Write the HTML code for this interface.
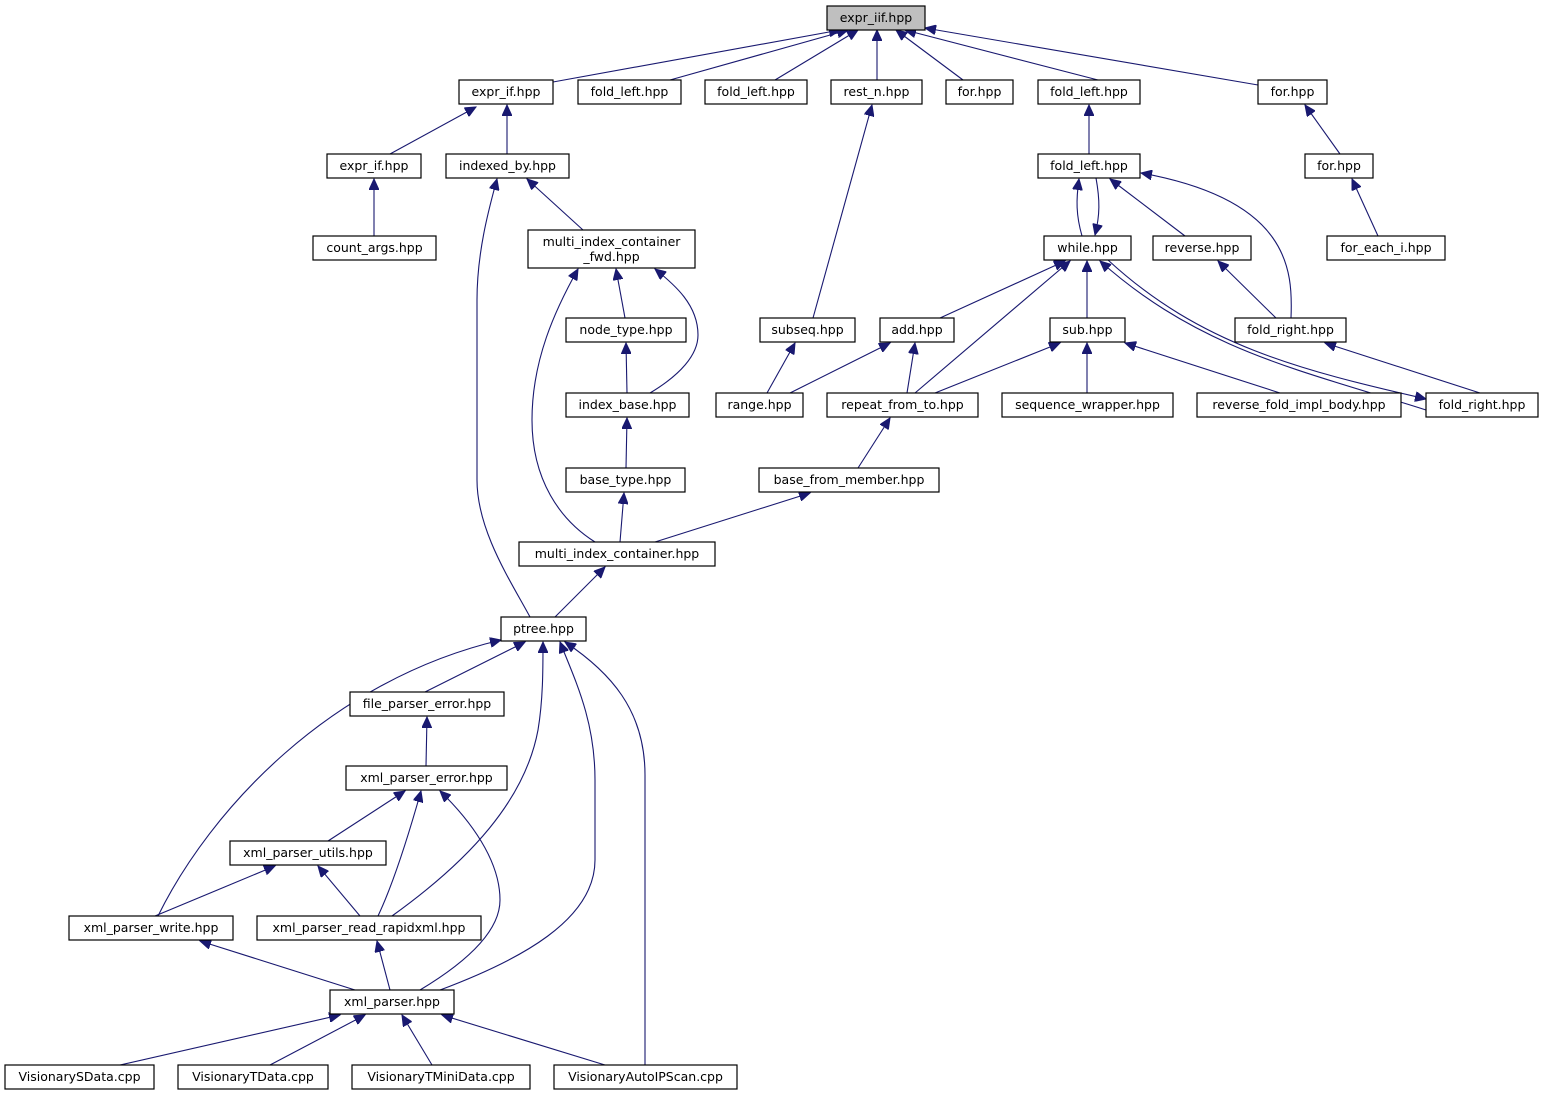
<!DOCTYPE html>
<html><head><meta charset="utf-8"><style>
html,body{margin:0;padding:0;background:#fff;}
svg{display:block;}
text{font-family:"DejaVu Sans","Liberation Sans",sans-serif;font-size:12.5px;fill:#000;}
.b{fill:#fff;stroke:#000;stroke-width:1.2;}
.e{fill:none;stroke:#191970;stroke-width:1.1;}
</style></head><body>
<svg width="1544" height="1097" viewBox="0 0 1544 1097" xmlns="http://www.w3.org/2000/svg">
<defs><marker id="a" markerWidth="12" markerHeight="10" refX="11" refY="5" orient="auto" markerUnits="userSpaceOnUse"><path d="M0,0 L11,5 L0,10 Z" fill="#191970" stroke="#191970"/></marker></defs>
<g class="e" marker-end="url(#a)">
<path d="M553,82 L840,30"/>
<path d="M670,80 L848,30"/>
<path d="M775,80 L858,30"/>
<path d="M877,80 L877,30"/>
<path d="M963,80 L896,30"/>
<path d="M1098,80 L905,30"/>
<path d="M1258,85 L925,28"/>
<path d="M390,154 L476,107"/>
<path d="M507,154 L507,105"/>
<path d="M374,236 L374,179"/>
<path d="M583,230 L527,179"/>
<path d="M530,617 C510,580 477,530 477,480 L477,300 C477,250 490,205 497,179"/>
<path d="M625,318 L616,269"/>
<path d="M650,393 C680,375 698,355 698,335 C698,305 675,285 655,269"/>
<path d="M595,542 C560,520 532,480 532,420 C532,360 555,310 578,269"/>
<path d="M627,393 L626,343"/>
<path d="M626,468 L627,418"/>
<path d="M620,542 L624,493"/>
<path d="M655,542 L810,493"/>
<path d="M555,617 L605,567"/>
<path d="M813,318 L872,105"/>
<path d="M767,393 L795,343"/>
<path d="M1089,154 L1089,105"/>
<path d="M1082,236 C1076,215 1076,200 1079,179"/>
<path d="M1096,178 C1100,200 1100,215 1095,235"/>
<path d="M1185,236 L1110,179"/>
<path d="M1291,318 C1293,270 1290,200 1141,173"/>
<path d="M1340,154 L1305,105"/>
<path d="M1378,236 L1352,179"/>
<path d="M940,318 L1065,261"/>
<path d="M915,393 L1070,261"/>
<path d="M1087,318 L1087,261"/>
<path d="M1426,410 C1300,370 1200,350 1100,261"/>
<path d="M1108,260 C1200,345 1300,370 1426,399"/>
<path d="M1480,393 L1325,343"/>
<path d="M1276,318 L1218,261"/>
<path d="M790,393 L890,343"/>
<path d="M907,393 L915,343"/>
<path d="M935,393 L1060,343"/>
<path d="M1087,393 L1087,343"/>
<path d="M1280,393 L1125,343"/>
<path d="M858,468 L890,418"/>
<path d="M425,692 L525,642"/>
<path d="M426,766 L427,717"/>
<path d="M328,841 L405,791"/>
<path d="M378,916 C395,880 410,830 421,791"/>
<path d="M420,990 C470,960 500,930 500,900 C500,860 470,820 440,791"/>
<path d="M155,916 L275,866"/>
<path d="M360,916 L318,866"/>
<path d="M158,916 C210,810 330,680 501,640"/>
<path d="M392,916 C470,860 525,800 538,730 C543,700 543,670 543,642"/>
<path d="M440,990 C520,960 595,920 595,860 L595,780 C595,720 575,680 560,642"/>
<path d="M645,1065 L645,775 C645,710 610,672 565,642"/>
<path d="M355,990 L200,941"/>
<path d="M390,990 L377,941"/>
<path d="M120,1065 L340,1015"/>
<path d="M270,1065 L365,1015"/>
<path d="M432,1065 L402,1015"/>
<path d="M605,1065 L442,1015"/>
</g>
<g>
<rect x="827" y="6" width="98" height="24" fill="#bfbfbf" stroke="#000" stroke-width="1.2"/><text x="876" y="22" text-anchor="middle">expr_iif.hpp</text>
<rect class="b" x="459" y="80" width="94" height="24"/><text x="506" y="96" text-anchor="middle">expr_if.hpp</text>
<rect class="b" x="578" y="80" width="103" height="24"/><text x="629.5" y="96" text-anchor="middle">fold_left.hpp</text>
<rect class="b" x="705" y="80" width="102" height="24"/><text x="756" y="96" text-anchor="middle">fold_left.hpp</text>
<rect class="b" x="831" y="80" width="91" height="24"/><text x="876.5" y="96" text-anchor="middle">rest_n.hpp</text>
<rect class="b" x="946" y="80" width="67" height="24"/><text x="979.5" y="96" text-anchor="middle">for.hpp</text>
<rect class="b" x="1038" y="80" width="102" height="24"/><text x="1089" y="96" text-anchor="middle">fold_left.hpp</text>
<rect class="b" x="1258" y="80" width="69" height="24"/><text x="1292.5" y="96" text-anchor="middle">for.hpp</text>
<rect class="b" x="327" y="154" width="94" height="24"/><text x="374" y="170" text-anchor="middle">expr_if.hpp</text>
<rect class="b" x="446" y="154" width="123" height="24"/><text x="507.5" y="170" text-anchor="middle">indexed_by.hpp</text>
<rect class="b" x="1038" y="154" width="102" height="24"/><text x="1089" y="170" text-anchor="middle">fold_left.hpp</text>
<rect class="b" x="1305" y="154" width="68" height="24"/><text x="1339" y="170" text-anchor="middle">for.hpp</text>
<rect class="b" x="528" y="230" width="167" height="38"/><text x="611.5" y="246" text-anchor="middle">multi_index_container</text><text x="611.5" y="261" text-anchor="middle">_fwd.hpp</text>
<rect class="b" x="313" y="236" width="123" height="24"/><text x="374.5" y="252" text-anchor="middle">count_args.hpp</text>
<rect class="b" x="1044" y="236" width="87" height="24"/><text x="1087.5" y="252" text-anchor="middle">while.hpp</text>
<rect class="b" x="1153" y="236" width="98" height="24"/><text x="1202" y="252" text-anchor="middle">reverse.hpp</text>
<rect class="b" x="1327" y="236" width="118" height="24"/><text x="1386" y="252" text-anchor="middle">for_each_i.hpp</text>
<rect class="b" x="566" y="318" width="120" height="24"/><text x="626" y="334" text-anchor="middle">node_type.hpp</text>
<rect class="b" x="760" y="318" width="95" height="24"/><text x="807.5" y="334" text-anchor="middle">subseq.hpp</text>
<rect class="b" x="880" y="318" width="74" height="24"/><text x="917" y="334" text-anchor="middle">add.hpp</text>
<rect class="b" x="1050" y="318" width="75" height="24"/><text x="1087.5" y="334" text-anchor="middle">sub.hpp</text>
<rect class="b" x="1235" y="318" width="111" height="24"/><text x="1290.5" y="334" text-anchor="middle">fold_right.hpp</text>
<rect class="b" x="566" y="393" width="123" height="24"/><text x="627.5" y="409" text-anchor="middle">index_base.hpp</text>
<rect class="b" x="716" y="393" width="87" height="24"/><text x="759.5" y="409" text-anchor="middle">range.hpp</text>
<rect class="b" x="827" y="393" width="151" height="24"/><text x="902.5" y="409" text-anchor="middle">repeat_from_to.hpp</text>
<rect class="b" x="1002" y="393" width="171" height="24"/><text x="1087.5" y="409" text-anchor="middle">sequence_wrapper.hpp</text>
<rect class="b" x="1197" y="393" width="204" height="24"/><text x="1299" y="409" text-anchor="middle">reverse_fold_impl_body.hpp</text>
<rect class="b" x="1426" y="393" width="112" height="24"/><text x="1482" y="409" text-anchor="middle">fold_right.hpp</text>
<rect class="b" x="566" y="468" width="119" height="24"/><text x="625.5" y="484" text-anchor="middle">base_type.hpp</text>
<rect class="b" x="759" y="468" width="180" height="24"/><text x="849" y="484" text-anchor="middle">base_from_member.hpp</text>
<rect class="b" x="519" y="542" width="196" height="24"/><text x="617" y="558" text-anchor="middle">multi_index_container.hpp</text>
<rect class="b" x="501" y="617" width="85" height="24"/><text x="543.5" y="633" text-anchor="middle">ptree.hpp</text>
<rect class="b" x="350" y="692" width="154" height="24"/><text x="427" y="708" text-anchor="middle">file_parser_error.hpp</text>
<rect class="b" x="346" y="766" width="161" height="24"/><text x="426.5" y="782" text-anchor="middle">xml_parser_error.hpp</text>
<rect class="b" x="230" y="841" width="156" height="24"/><text x="308" y="857" text-anchor="middle">xml_parser_utils.hpp</text>
<rect class="b" x="69" y="916" width="164" height="24"/><text x="151" y="932" text-anchor="middle">xml_parser_write.hpp</text>
<rect class="b" x="257" y="916" width="224" height="24"/><text x="369" y="932" text-anchor="middle">xml_parser_read_rapidxml.hpp</text>
<rect class="b" x="330" y="990" width="124" height="24"/><text x="392" y="1006" text-anchor="middle">xml_parser.hpp</text>
<rect class="b" x="5" y="1065" width="149" height="24"/><text x="79.5" y="1081" text-anchor="middle">VisionarySData.cpp</text>
<rect class="b" x="178" y="1065" width="150" height="24"/><text x="253" y="1081" text-anchor="middle">VisionaryTData.cpp</text>
<rect class="b" x="352" y="1065" width="178" height="24"/><text x="441" y="1081" text-anchor="middle">VisionaryTMiniData.cpp</text>
<rect class="b" x="554" y="1065" width="183" height="24"/><text x="645.5" y="1081" text-anchor="middle">VisionaryAutoIPScan.cpp</text>
</g>
</svg>
</body></html>
